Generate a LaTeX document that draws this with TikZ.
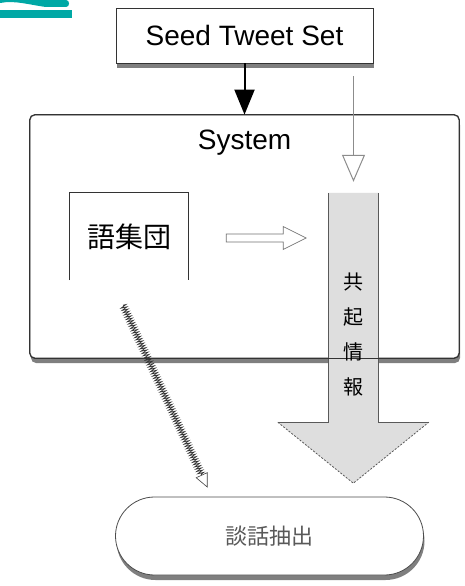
\documentclass[tikz,border=0pt]{standalone}
\usepackage{fontspec}
\setmainfont{Liberation Sans}
\newfontfamily\jafont{Noto Sans CJK JP}
\usetikzlibrary{arrows.meta,calc,positioning,shadows,decorations.pathmorphing}
\definecolor{logoteal}{RGB}{0,168,165}
\definecolor{blkgray}{RGB}{222,222,222}
\tikzset{
    box/.style={draw=black!80,line width=0.8pt,fill=white,inner sep=0pt},
    boxshadow/.style={drop shadow={shadow xshift=1pt,shadow yshift=-5pt,opacity=0.5,fill=black}},
    hatched/.style={draw=black!80,line width=0.7pt,decorate,decoration={zigzag,segment length=2.5pt,amplitude=3pt}},
    bigfont/.style={font=\fontsize{28}{32}\selectfont}
}

\begin{document}
\begin{tikzpicture}[x=1pt,y=-1pt]
        \useasboundingbox (0,0) rectangle (464,586);
        \fill[logoteal] (0,10) rectangle (72,18);
        \fill[logoteal] (0,0) -- (66,0) .. controls (70,0) and (70,7) .. (66,7) -- (46,7)
            .. controls (30,5) and (15,0) .. (0,3) -- cycle;

        \node[box,boxshadow,minimum width=257,minimum height=55,bigfont] (seed) at (244.5,35.5) {Seed Tweet Set};
        \node[box,boxshadow,rounded corners=5,minimum width=429,minimum height=243] (sys) at (244.5,236.5) {};
        \node[bigfont] (systitle) at (244.5,143) {System};

        \node[minimum width=49,minimum height=229,inner sep=0] (cooc) at (353.5,307.5) {};
        \fill[blkgray] (cooc.north west) -- (cooc.south west) -- ++(-51,0) -- ++(75.5,61)
            -- ++(75.5,-61) -- (cooc.south east) -- (cooc.north east) -- cycle;
        \draw[black!65,line width=0.8pt] (cooc.north west) -- (cooc.south west) -- ++(-51,0)
            (cooc.north east) -- (cooc.south east) -- ++(51,0);
        \draw[black!65,line width=0.8pt,dash pattern=on 2pt off 1.5pt] (cooc.south west) ++(-51,0)
            -- ++(75.5,61) coordinate(tip) -- ++(75.5,-61);
        \draw[black!80,line width=0.8pt,rounded corners=5] (sys.south west) rectangle (sys.north east);
        \node[font=\jafont\fontsize{20}{35}\selectfont,align=center,inner sep=0] (info) at (353.5,335) {共\\起\\情\\報};

        \node[minimum width=118,minimum height=87,inner sep=0,font=\jafont\fontsize{28}{32}\selectfont] (grp) at (129,236.5) {語集団};
        \draw[black!80,line width=0.8pt] (grp.south west) -- (grp.north west) -- (grp.north east) -- (grp.south east);

        \node[box,boxshadow,draw=black!70,rounded corners=39,minimum width=308,minimum height=78,
            font=\jafont\fontsize{22}{26}\selectfont,text=black!65] (talk) at (269.5,536) {談話抽出};

        \draw[line width=2pt,-{Triangle[length=25pt,width=20pt]}] (seed) -- (sys);
        \draw[black!45,line width=1pt,shorten <=13pt,shorten >=11pt,-{Triangle[length=27pt,width=23pt,fill=white]}]
            (seed.south -| cooc.north) -- (cooc.north);

        \coordinate (ha) at ($(grp.east)+(38,1.5)$);
        \draw[black!55,line width=0.7pt,fill=white] (ha) ++(0,-4) -- ++(57,0) -- ++(0,-7.5) -- ++(23,11.5)
            -- ++(-23,11.5) -- ++(0,-7.5) -- ++(-57,0) -- cycle;

        \coordinate (hs) at ($(grp.south)+(-6,25)$);
        \coordinate (he) at ($(talk.north)+(-62,-9)$);
        \draw[hatched] (hs) -- ($(he)!14pt!(hs)$);
        \draw[black!75,line width=0.6pt,-{Triangle[open,length=14pt,width=13pt]}] ($(he)!15pt!(hs)$) -- (he);
\end{tikzpicture}
\end{document}
